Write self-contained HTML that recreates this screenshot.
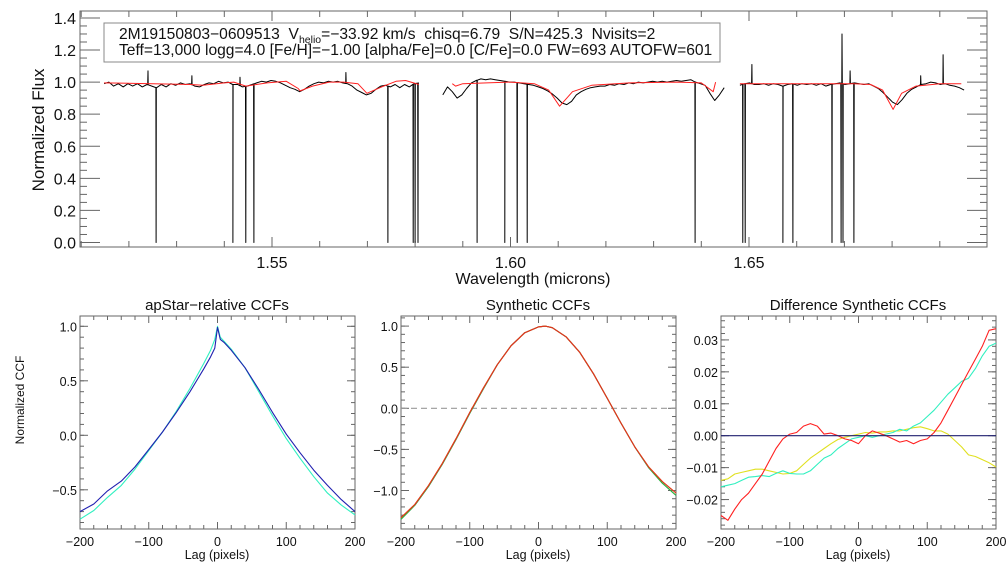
<!DOCTYPE html>
<html><head><meta charset="utf-8"><style>
body{margin:0;background:#fff;}
svg{display:block;font-family:"Liberation Sans",sans-serif;}
</style></head><body>
<svg id="c" width="1008" height="576" viewBox="0 0 1008 576"></svg>
<script>
// ---------- Spectrum data ----------
const seg1Start = 1.5148, seg1Step = 0.001;
const seg1Flux = [0.99,1.0,0.975,0.99,0.97,0.99,0.975,0.99,0.97,0.985,0.975,0.965,0.985,0.97,0.99,0.98,0.995,0.985,0.99,0.975,0.97,0.985,0.995,0.99,1.005,0.995,1.0,0.985,0.985,0.97,0.975,0.985,0.995,1.005,1.0,1.01,1.005,0.995,0.98,0.965,0.955,0.94,0.955,0.975,0.99,1.0,0.995,1.005,1.0,1.005,0.995,0.99,0.975,0.95,0.935,0.92,0.93,0.955,0.975,0.98,0.97,0.985,0.965,0.985,0.97,0.99,0.995];
const seg2Start = 1.5858, seg2Step = 0.001;
const seg2Flux = [0.92,0.97,0.94,0.90,0.92,0.96,0.995,1.01,1.02,1.015,1.02,1.015,1.01,1.005,1.0,1.0,0.995,0.99,0.985,0.98,0.97,0.96,0.945,0.925,0.90,0.87,0.86,0.88,0.92,0.94,0.955,0.965,0.97,0.975,0.975,0.985,0.98,0.99,0.985,0.995,0.99,1.0,0.995,1.0,1.005,1.0,1.005,1.0,1.005,1.01,1.005,1.01,1.015,1.0,0.99,0.98,0.93,0.885,0.92,0.965];
const seg3Start = 1.6481, seg3Step = 0.001;
const seg3Flux = [0.98,0.99,0.995,0.985,0.985,0.99,0.98,0.99,0.985,0.975,0.985,0.99,0.98,0.99,0.985,0.99,0.98,0.99,0.975,0.985,0.99,0.995,0.985,0.99,0.995,0.99,0.985,0.99,0.975,0.96,0.935,0.905,0.875,0.86,0.89,0.93,0.955,0.97,0.985,0.99,1.0,0.995,0.985,0.99,0.98,0.975,0.965,0.95];
const badPixWave = [1.5257,1.5418,1.5445,1.5462,1.5743,1.5796,1.5800,1.5806,1.5930,1.5988,1.6014,1.6035,1.6387,1.6487,1.6492,1.6571,1.6592,1.6674,1.6693,1.6697,1.6720];
const spikeWave = [1.5240,1.5332,1.5433,1.5655,1.6506,1.6695,1.6712,1.6907,1.6860];
const spikeFlux = [1.07,1.04,1.03,1.06,1.11,1.30,1.07,1.17,1.04];
const model1Wave = [1.5148,1.525,1.533,1.5355,1.54,1.542,1.5445,1.549,1.553,1.5555,1.5559,1.5585,1.562,1.565,1.568,1.5699,1.573,1.576,1.578,1.5808];
const model1Flux = [0.995,0.99,0.985,0.98,0.995,1.0,0.975,0.995,1.005,0.96,0.945,0.975,1.0,1.0,0.99,0.93,0.97,1.005,1.01,0.985];
const model2Wave = [1.5878,1.5885,1.590,1.595,1.600,1.605,1.608,1.6103,1.613,1.617,1.625,1.635,1.640,1.6425,1.643];
const model2Flux = [0.99,0.975,0.99,0.995,1.0,0.99,0.95,0.85,0.94,0.98,0.995,1.0,0.995,0.94,1.0];
const model3Wave = [1.6481,1.655,1.665,1.672,1.6755,1.678,1.6802,1.682,1.685,1.690,1.6945];
const model3Flux = [0.99,0.99,0.99,0.99,0.985,0.95,0.83,0.93,0.975,0.99,0.99];
const fluxTicks = ["0.0","0.2","0.4","0.6","0.8","1.0","1.2","1.4"];
const waveTicks = ["1.55","1.60","1.65"];

// ---------- CCF data ----------
const lagsA = [-200,-180,-160,-140,-120,-100,-80,-60,-40,-20,-10,-4,0,4,10,20,40,60,80,100,120,140,160,180,200];
const ccfBlue = [-0.70,-0.63,-0.51,-0.42,-0.29,-0.13,0.03,0.21,0.40,0.61,0.72,0.80,0.99,0.88,0.85,0.78,0.62,0.42,0.21,0.01,-0.16,-0.32,-0.46,-0.59,-0.70];
const ccfCyan = [-0.77,-0.69,-0.57,-0.46,-0.31,-0.14,0.03,0.22,0.43,0.66,0.78,0.88,1.0,0.90,0.86,0.79,0.62,0.40,0.18,-0.03,-0.21,-0.38,-0.53,-0.64,-0.73];
const lagsS = [-200,-180,-160,-140,-120,-100,-80,-60,-40,-20,0,10,20,40,60,80,100,120,140,160,180,200];
const synthRed = [-1.33,-1.17,-0.94,-0.67,-0.37,-0.05,0.25,0.53,0.76,0.92,0.99,1.0,0.98,0.87,0.68,0.42,0.12,-0.18,-0.47,-0.71,-0.89,-1.03];
const synthBlue = [-1.35,-1.18,-0.95,-0.68,-0.38,-0.06,0.24,0.53,0.76,0.92,0.99,1.0,0.98,0.87,0.68,0.42,0.12,-0.18,-0.47,-0.72,-0.91,-1.06];
const lagsD = [-200,-190,-180,-170,-160,-150,-140,-130,-120,-110,-100,-90,-80,-70,-60,-50,-40,-30,-20,-10,0,10,20,30,40,50,60,70,80,90,100,110,120,130,140,150,160,170,180,190,200];
const diffRed = [-0.025,-0.0265,-0.023,-0.020,-0.018,-0.015,-0.012,-0.008,-0.004,-0.001,0.0005,0.001,0.003,0.0038,0.003,0.0005,0.0008,0.0,-0.001,-0.0015,-0.0025,0.0,0.0015,0.0008,0.0,-0.001,-0.002,-0.0015,-0.0025,-0.0015,-0.001,0.001,0.004,0.008,0.012,0.016,0.020,0.024,0.028,0.033,0.0335];
const diffCyan = [-0.016,-0.0155,-0.015,-0.014,-0.013,-0.0128,-0.0125,-0.0128,-0.0118,-0.011,-0.0118,-0.012,-0.012,-0.011,-0.009,-0.007,-0.006,-0.004,-0.0025,-0.001,-0.0005,0.0,-0.0005,0.0,0.0005,0.001,0.002,0.0015,0.003,0.004,0.006,0.008,0.0105,0.013,0.015,0.017,0.018,0.021,0.025,0.028,0.029];
const diffYellow = [-0.014,-0.0135,-0.012,-0.0115,-0.011,-0.0105,-0.0105,-0.011,-0.0115,-0.012,-0.0118,-0.011,-0.009,-0.007,-0.0055,-0.004,-0.0025,-0.0012,-0.0005,0.0,0.0005,0.001,0.0008,0.0012,0.0012,0.0015,0.0015,0.002,0.0025,0.0028,0.0022,0.0015,0.0015,0.0005,-0.0015,-0.0035,-0.006,-0.0065,-0.0075,-0.0085,-0.0098];
const lagTicks = ["-200","-100","0","100","200"];

const NS="http://www.w3.org/2000/svg";
const svg=document.getElementById('c');
function mk(tag,attrs,parent){const e=document.createElementNS(NS,tag);for(const k in attrs)e.setAttribute(k,attrs[k]);(parent||svg).appendChild(e);return e;}
function txt(s,attrs,parent){const e=mk('text',attrs,parent);e.textContent=s;return e;}
const frameCol="#666";

// ---------- Top panel ----------
const T={l:80,r:987,t:11,b:247};
const wx=w=>272+(w-1.55)*4770;
const fy=f=>242.5-160.4*f;
const topG=mk('g',{});


let fr=mk('rect',{x:T.l,y:T.t,width:T.r-T.l,height:T.b-T.t,fill:'none',stroke:frameCol,'stroke-width':1},topG);

for(let v=0;v<=1.4001;v+=0.05){
  const y=fy(v);const maj=Math.abs(v*5-Math.round(v*5))<1e-6;const L=maj?20:7;
  mk('line',{x1:T.l,x2:T.l+L,y1:y,y2:y,stroke:frameCol},topG);
  mk('line',{x1:T.r,x2:T.r-L,y1:y,y2:y,stroke:frameCol},topG);
}
fluxTicks.forEach(s=>{const t=txt(s,{x:76,y:fy(parseFloat(s))+6,'text-anchor':'end','font-size':16,fill:'#111'},topG);
  });
for(let i=151;i<=170;i++){const w=i/100;const x=wx(w);if(x<T.l||x>T.r)continue;const maj=i%5==0;const L=maj?10:6;
  mk('line',{x1:x,x2:x,y1:T.b,y2:T.b-L,stroke:frameCol},topG);mk('line',{x1:x,x2:x,y1:T.t,y2:T.t+L,stroke:frameCol},topG);}
waveTicks.forEach(s=>{const t=txt(s,{x:wx(parseFloat(s)),y:268,'text-anchor':'middle','font-size':16,fill:'#111'},topG);
  });
let yt=txt('Normalized Flux',{x:0,y:0,transform:'translate(44,130) rotate(-90)','text-anchor':'middle','font-size':17,fill:'#111'},topG);

let xt=txt('Wavelength (microns)',{x:533,y:284,'text-anchor':'middle','font-size':16,fill:'#111'},topG);

function interp(pts,w){const base=pts.filter(p=>p[1]>0.5&&p[1]<1.03).sort((a,b)=>a[0]-b[0]);
  for(let i=0;i<base.length-1;i++){if(w>=base[i][0]&&w<=base[i+1][0]){const t=(w-base[i][0])/(base[i+1][0]-base[i][0]);return base[i][1]+t*(base[i+1][1]-base[i][1]);}}return 0.99;}
function segPts(start,step,flux){const pts=[];flux.forEach((f,i)=>{pts.push([start+i*step,f]);});
  const end=start+(flux.length-1)*step;
  badPixWave.forEach(w=>{if(w>=start&&w<=end){const b=interp(pts,w);pts.push([w-0.00005,b]);pts.push([w,0]);pts.push([w+0.00005,b]);}});
  spikeWave.forEach((w,k)=>{if(w>=start&&w<=end){const b=interp(pts,w);pts.push([w-0.00005,b]);pts.push([w,spikeFlux[k]]);pts.push([w+0.00005,b]);}});
  pts.sort((a,b)=>a[0]-b[0]);return pts;}
function poly(pts,stroke,parent,name,sw){const p=mk('polyline',{points:pts.map(q=>q.join(',')).join(' '),fill:'none',stroke:stroke,'stroke-width':sw||1,'stroke-linejoin':'round'},parent);
  return p;}
[[seg1Start,seg1Step,seg1Flux],[seg2Start,seg2Step,seg2Flux],[seg3Start,seg3Step,seg3Flux]].forEach((s,k)=>{
  const pts=segPts(s[0],s[1],s[2]).map(p=>[wx(p[0]).toFixed(1),fy(p[1]).toFixed(1)]);
  poly(pts,'#000',topG,'observed-spectrum-chip-'+(k+1),1);
});
[[model1Wave,model1Flux],[model2Wave,model2Flux],[model3Wave,model3Flux]].forEach((m,k)=>{
  const pts=m[0].map((w,i)=>[wx(w).toFixed(1),fy(m[1][i]).toFixed(1)]);
  poly(pts,'#ff2020',topG,'model-spectrum-chip-'+(k+1),1);
});
let box=mk('rect',{x:104,y:23,width:616,height:39,fill:'#fff',stroke:'#888'},topG);

let l1=mk('text',{x:119,y:39,'font-size':15.6,fill:'#111'},topG);

l1.style.whiteSpace='pre';
l1.appendChild(document.createTextNode('2M19150803−0609513  V'));
let ts1=mk('tspan',{'font-size':10.5,dy:4},l1);ts1.textContent='helio';
let ts2=mk('tspan',{dy:-4},l1);ts2.textContent='=−33.92 km/s  chisq=6.79  S/N=425.3  Nvisits=2';
let l2=txt('Teff=13,000 logg=4.0 [Fe/H]=−1.00 [alpha/Fe]=0.0 [C/Fe]=0.0 FW=693 AUTOFW=601',{x:119,y:55,'font-size':15.6,fill:'#111'},topG);


// ---------- Bottom panels ----------
function panel(cfg){
  const g=mk('g',{});
  
  
  const L=cfg.l,R=cfg.l+275,Tp=316,B=529;
  const X=v=>L+(v+200)/400*275;const Y=cfg.y;
  let f=mk('rect',{x:L,y:Tp,width:275,height:B-Tp,fill:'none',stroke:frameCol},g);
  
  for(let v=-200;v<=200;v+=20){const x=X(v);const len=v%100==0?7:4;
    mk('line',{x1:x,x2:x,y1:B,y2:B-len,stroke:frameCol},g);mk('line',{x1:x,x2:x,y1:Tp,y2:Tp+len,stroke:frameCol},g);}
  cfg.yminor.forEach(v=>{const y=Y(v);if(y<Tp||y>B)return;mk('line',{x1:L,x2:L+4,y1:y,y2:y,stroke:frameCol},g);mk('line',{x1:R,x2:R-4,y1:y,y2:y,stroke:frameCol},g);});
  cfg.ymajor.forEach(s=>{const y=Y(parseFloat(s));mk('line',{x1:L,x2:L+8,y1:y,y2:y,stroke:frameCol},g);mk('line',{x1:R,x2:R-8,y1:y,y2:y,stroke:frameCol},g);
    const t=txt(s.replace('-','−'),{x:L-3,y:y+5,'text-anchor':'end','font-size':12.5,fill:'#111'},g);
    });
  lagTicks.forEach(s=>{const t=txt(s.replace('-','−'),{x:X(parseFloat(s)),y:546,'text-anchor':'middle','font-size':12.5,fill:'#111'},g);
    });
  let tt=txt(cfg.title,{x:L+137,y:310,'text-anchor':'middle','font-size':15,fill:'#111'},g);
  
  let xl=txt('Lag (pixels)',{x:L+137,y:559,'text-anchor':'middle','font-size':12.5,fill:'#111'},g);
  
  return {g,X,Y};
}
function drawLine(P,lags,vals,col,name,dash){const pts=lags.map((l,i)=>[P.X(l).toFixed(1),P.Y(vals[i]).toFixed(1)]);
  const p=poly(pts,col,P.g,name,1.1);if(dash)p.setAttribute('stroke-dasharray',dash);return p;}
function rng(a,b,s){const r=[];for(let v=a;v<=b+1e-9;v+=s)r.push(+v.toFixed(5));return r;}

const P1=panel({name:'apstar-ccf-panel',l:80,title:'apStar−relative CCFs',y:v=>435.3-109*v,ymajor:['-0.5','0.0','0.5','1.0'],yminor:rng(-0.8,1.1,0.1)});
drawLine(P1,lagsA,ccfCyan,'#30f0c0','ccf-visit-1');
drawLine(P1,lagsA,ccfBlue,'#2020b0','ccf-visit-2');
let yl=txt('Normalized CCF',{x:0,y:0,transform:'translate(24,400) rotate(-90)','text-anchor':'middle','font-size':12,fill:'#111'});


const P2=panel({name:'synthetic-ccf-panel',l:401,title:'Synthetic CCFs',y:v=>408.3-82.2*v,ymajor:['-1.0','-0.5','0.0','0.5','1.0'],yminor:rng(-1.4,1.1,0.1)});
drawLine(P2,[-200,200],[0,0],'#999','synthetic-zero-line','6,4');
drawLine(P2,lagsS,synthBlue,'#2040d0','synthetic-ccf-blue');
drawLine(P2,lagsS,synthBlue,'#30c030','synthetic-ccf-green');
drawLine(P2,lagsS,synthRed,'#f09000','synthetic-ccf-orange');
drawLine(P2,lagsS,synthRed,'#e03020','synthetic-ccf-red');

const P3=panel({name:'difference-ccf-panel',l:721,title:'Difference Synthetic CCFs',y:v=>435.7-3193*v,ymajor:['-0.02','-0.01','0.00','0.01','0.02','0.03'],yminor:rng(-0.028,0.036,0.002)});
drawLine(P3,lagsD,diffYellow,'#e0e020','difference-ccf-yellow');
drawLine(P3,lagsD,diffCyan,'#30f0c0','difference-ccf-cyan');
drawLine(P3,lagsD,diffRed,'#ff2020','difference-ccf-red');
drawLine(P3,[-200,200],[0,0],'#202070','difference-zero-line');
</script>
</body></html>
